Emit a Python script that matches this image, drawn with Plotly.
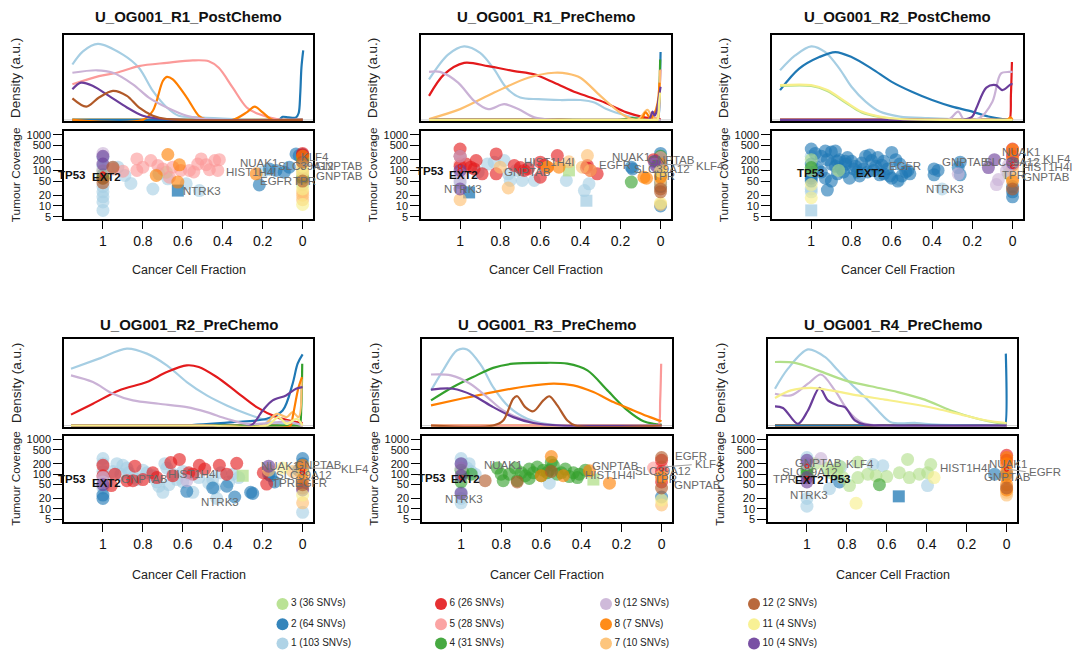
import numpy as np
import plotly.graph_objects as go

W, H = 1072, 659
FONT = "Liberation Sans, Arial, Helvetica, sans-serif"

# ---------------------------------------------------------------- data
SAMPLES = ["U_OG001_R1_PostChemo", "U_OG001_R1_PreChemo", "U_OG001_R2_PostChemo",
           "U_OG001_R2_PreChemo", "U_OG001_R3_PreChemo", "U_OG001_R4_PreChemo"]

CLUSTERS = [1, 2, 3, 4, 5, 6, 7, 8, 9, 10, 11, 12]
CLUSTER_SNVS = [103, 64, 36, 31, 28, 26, 10, 7, 12, 4, 4, 2]
PALETTE = ["#A6CEE3", "#1F78B4", "#B2DF8A", "#33A02C", "#FB9A99", "#E31A1C",
           "#FDBF6F", "#FF7F00", "#CAB2D6", "#6A3D9A", "#F7EF8A", "#B15928"]

CCF_TICKS = [1, 0.8, 0.6, 0.4, 0.2, 0]
CCF_TICK_TEXT = ["1", "0.8", "0.6", "0.4", "0.2", "0"]
COV_TICKS = [5, 10, 20, 50, 100, 200, 500, 1000]

# density curves per cluster: (ccf knots, density a.u.)
R1POST_DENS = {
    3: ([1.153, 0.0], [0, 0]), 4: ([1.153, 0.0], [0, 0]), 6: ([1.153, 0.0], [0, 0]),
    7: ([1.153, 0.0], [0, 0]), 11: ([1.153, 0.0], [0, 0]),
    1: ([1.153, 1.1, 1.025, 0.9, 0.82, 0.75, 0.68, 0.62, 0.52, 0.35, 0.2, 0.0],
        [0.67, 0.83, 0.92, 0.79, 0.63, 0.35, 0.15, 0.05, 0.03, 0.01, 0.0, 0.0]),
    2: ([1.153, 0.5, 0.12, 0.1, 0.07, 0.033, 0.02, 0.012, 0.006, -0.003],
        [0, 0, 0, 0.036, 0.03, 0.03, 0.08, 0.31, 0.63, 0.84]),
    5: ([1.153, 1.02, 0.93, 0.82, 0.68, 0.55, 0.47, 0.42, 0.35, 0.28, 0.22, 0.13, 0.0],
        [0.43, 0.53, 0.57, 0.65, 0.69, 0.72, 0.71, 0.63, 0.39, 0.15, 0.07, 0.01, 0.0]),
    8: ([1.153, 0.8, 0.75, 0.7, 0.68, 0.65, 0.58, 0.52, 0.48, 0.35, 0.28, 0.24, 0.2, 0.15, 0.0],
        [0, 0, 0.11, 0.47, 0.52, 0.49, 0.27, 0.05, 0.0, 0.0, 0.09, 0.16, 0.09, 0.0, 0.0]),
    9: ([1.153, 1.03, 0.95, 0.85, 0.77, 0.68, 0.58, 0.48, 0.0],
        [0.57, 0.6, 0.57, 0.43, 0.27, 0.15, 0.05, 0.01, 0.0]),
    10: ([1.153, 1.11, 1.05, 0.97, 0.88, 0.8, 0.7, 0.0],
         [0.37, 0.45, 0.41, 0.29, 0.15, 0.05, 0.01, 0.0]),
    12: ([1.153, 1.083, 1.02, 0.95, 0.88, 0.82, 0.75, 0.68, 0.0],
         [0.26, 0.16, 0.27, 0.35, 0.29, 0.15, 0.05, 0.01, 0.0]),
}
R1PRE_DENS = {
    3: ([1.155, 0.0], [0, 0]), 12: ([1.155, 0.0], [0, 0]),
    1: ([1.155, 1.06, 0.98, 0.9, 0.83, 0.77, 0.7, 0.61, 0.5, 0.4, 0.33, 0.27, 0.17, 0.08, 0.0],
        [0.49, 0.79, 0.89, 0.81, 0.61, 0.39, 0.27, 0.25, 0.24, 0.24, 0.21, 0.13, 0.05, 0.01, 0.0]),
    6: ([1.155, 1.08, 0.98, 0.86, 0.73, 0.63, 0.53, 0.42, 0.3, 0.17, 0.08, 0.0],
        [0.29, 0.55, 0.69, 0.65, 0.59, 0.55, 0.45, 0.33, 0.23, 0.09, 0.03, 0.01]),
    9: ([1.155, 1.1, 1.01, 0.93, 0.86, 0.78, 0.71, 0.63, 0.53, 0.0],
        [0.58, 0.58, 0.45, 0.23, 0.13, 0.19, 0.13, 0.03, 0.0, 0.0]),
    7: ([1.155, 1.0, 0.83, 0.66, 0.53, 0.465, 0.4, 0.3, 0.18, 0.116, 0.066, 0.04, 0.02, 0.01, 0.004],
        [0.01, 0.13, 0.33, 0.51, 0.57, 0.56, 0.51, 0.29, 0.05, 0.0, 0.12, 0.03, 0.02, 0.1, 0.6]),
    4: ([1.155, 0.5, 0.2, 0.15, 0.1, 0.03, 0.015, 0.008, 0.002],
        [0, 0, 0, 0.02, 0.01, 0.0, 0.0, 0.2, 0.73]),
    2: ([1.155, 0.5, 0.05, 0.02, 0.01, 0.005, 0.0], [0, 0, 0, 0.0, 0.05, 0.3, 0.82]),
    8: ([1.155, 0.5, 0.1, 0.075, 0.05, 0.03, 0.015, 0.005], [0, 0, 0, 0.09, 0.02, 0.08, 0.2, 0.45]),
    10: ([1.155, 0.5, 0.06, 0.04, 0.03, 0.02, 0.01, 0.0], [0, 0, 0, 0.1, 0.05, 0.1, 0.25, 0.4]),
    11: ([1.155, 0.5, 0.03, 0.015, 0.008, 0.002], [0, 0, 0, 0.0, 0.2, 0.33]),
    5: ([1.155, 0.5, 0.03, 0.015, 0.006, 0.0], [0, 0, 0, 0.0, 0.3, 0.61]),
}
R2POST_DENS = {
    4: ([1.155, 0.0], [0, 0]), 5: ([1.155, 0.0], [0, 0]), 7: ([1.155, 0.0], [0, 0]),
    12: ([1.155, 0.0], [0, 0]),
    8: ([1.155, 0.5, 0.03, 0.01, 0.0], [0, 0, 0, 0.03, 0.0]),
    1: ([1.155, 1.08, 1.0, 0.93, 0.86, 0.8, 0.73, 0.66, 0.56, 0.42, 0.3, 0.0],
        [0.6, 0.78, 0.89, 0.82, 0.62, 0.4, 0.22, 0.1, 0.04, 0.02, 0.01, 0.0]),
    2: ([1.155, 1.06, 0.96, 0.88, 0.8, 0.7, 0.6, 0.5, 0.4, 0.3, 0.2, 0.12, 0.05, 0.0],
        [0.36, 0.62, 0.76, 0.82, 0.76, 0.62, 0.46, 0.34, 0.24, 0.16, 0.1, 0.04, 0.01, 0.0]),
    3: ([1.155, 1.0, 0.92, 0.83, 0.75, 0.66, 0.56, 0.0],
        [0.41, 0.41, 0.35, 0.21, 0.09, 0.035, 0.01, 0.0]),
    11: ([1.155, 1.0, 0.92, 0.83, 0.75, 0.66, 0.56, 0.0],
         [0.42, 0.42, 0.36, 0.22, 0.1, 0.04, 0.01, 0.0]),
    10: ([1.155, 0.5, 0.25, 0.2, 0.18, 0.13, 0.083, 0.05, 0.008, 0.0],
         [0, 0, 0, 0.04, 0.14, 0.39, 0.42, 0.36, 0.43, 0.43]),
    9: ([1.155, 0.5, 0.32, 0.27, 0.24, 0.166, 0.1, 0.058, 0.017, 0.0],
        [0, 0, 0, 0.1, 0.0, 0.02, 0.22, 0.56, 0.58, 0.58]),
    6: ([1.155, 0.5, 0.03, 0.015, 0.008, 0.003], [0, 0, 0, 0.0, 0.3, 0.7]),
}
R2PRE_DENS = {
    3: ([1.16, 0.0], [0, 0]), 5: ([1.16, 0.0], [0, 0]), 12: ([1.16, 0.0], [0, 0]),
    1: ([1.16, 1.02, 0.88, 0.78, 0.68, 0.58, 0.48, 0.38, 0.28, 0.18, 0.1, 0.0],
        [0.68, 0.8, 0.92, 0.86, 0.72, 0.52, 0.36, 0.24, 0.14, 0.06, 0.02, 0.0]),
    6: ([1.16, 1.05, 0.92, 0.78, 0.68, 0.58, 0.52, 0.43, 0.33, 0.23, 0.13, 0.05, 0.0],
        [0.13, 0.26, 0.42, 0.52, 0.64, 0.72, 0.7, 0.58, 0.4, 0.22, 0.1, 0.05, 0.03]),
    9: ([1.16, 1.05, 0.95, 0.85, 0.72, 0.58, 0.48, 0.38, 0.28, 0.15, 0.08, 0.0],
        [0.6, 0.52, 0.38, 0.3, 0.26, 0.22, 0.16, 0.08, 0.02, 0.03, 0.05, 0.0]),
    2: ([1.16, 0.8, 0.6, 0.35, 0.18, 0.1, 0.05, 0.025, 0.0],
        [0, 0, 0, 0.04, 0.08, 0.18, 0.5, 0.74, 0.85]),
    10: ([1.16, 0.5, 0.26, 0.2, 0.15, 0.083, 0.033, 0.0], [0, 0, 0, 0.18, 0.3, 0.36, 0.44, 0.46]),
    4: ([1.16, 0.5, 0.03, 0.015, 0.007, 0.002], [0, 0, 0, 0.0, 0.2, 0.74]),
    8: ([1.16, 0.5, 0.06, 0.05, 0.02, 0.003], [0, 0, 0, 0.1, 0.46, 0.58]),
    7: ([1.16, 0.5, 0.2, 0.13, 0.08, 0.05, 0.02, 0.005], [0, 0, 0, 0.14, 0.1, 0.16, 0.1, 0.56]),
    11: ([1.16, 0.5, 0.18, 0.12, 0.08, 0.03, 0.0], [0, 0, 0, 0.1, 0.02, 0.08, 0.0]),
}
R3PRE_DENS = {
    2: ([1.15, 0.0], [0, 0]), 3: ([1.15, 0.0], [0, 0]), 6: ([1.15, 0.0], [0, 0]),
    7: ([1.15, 0.0], [0, 0]), 11: ([1.15, 0.0], [0, 0]),
    1: ([1.15, 1.09, 1.02, 0.97, 0.9, 0.84, 0.76, 0.67, 0.6, 0.5, 0.0],
        [0.42, 0.66, 0.9, 0.91, 0.72, 0.46, 0.22, 0.08, 0.03, 0.0, 0.0]),
    4: ([1.15, 1.04, 0.94, 0.84, 0.74, 0.6, 0.47, 0.37, 0.27, 0.17, 0.09, 0.04, 0.0],
        [0.3, 0.46, 0.58, 0.69, 0.74, 0.75, 0.74, 0.66, 0.42, 0.18, 0.05, 0.02, 0.01]),
    8: ([1.15, 1.0, 0.84, 0.67, 0.54, 0.44, 0.34, 0.24, 0.14, 0.058, 0.0],
        [0.24, 0.32, 0.4, 0.47, 0.5, 0.48, 0.4, 0.28, 0.18, 0.1, 0.05]),
    9: ([1.15, 1.05, 0.955, 0.87, 0.79, 0.7, 0.6, 0.5, 0.0],
        [0.61, 0.6, 0.5, 0.34, 0.18, 0.08, 0.02, 0.0, 0.0]),
    10: ([1.15, 1.04, 0.94, 0.84, 0.74, 0.64, 0.5, 0.0],
         [0.43, 0.44, 0.36, 0.22, 0.1, 0.03, 0.0, 0.0]),
    12: ([1.15, 0.84, 0.79, 0.74, 0.72, 0.68, 0.64, 0.59, 0.56, 0.52, 0.47, 0.43, 0.0],
         [0, 0, 0.06, 0.32, 0.35, 0.22, 0.17, 0.3, 0.35, 0.24, 0.06, 0.0, 0.0]),
    5: ([1.15, 0.5, 0.03, 0.015, 0.007, 0.002], [0, 0, 0, 0.0, 0.3, 0.74]),
}
R4PRE_DENS = {
    4: ([1.16, 0.0], [0, 0]), 5: ([1.16, 0.0], [0, 0]), 6: ([1.16, 0.0], [0, 0]),
    7: ([1.16, 0.0], [0, 0]), 8: ([1.16, 0.0], [0, 0]), 12: ([1.16, 0.0], [0, 0]),
    1: ([1.16, 1.095, 0.995, 0.91, 0.845, 0.78, 0.71, 0.645, 0.58, 0.45, 0.35, 0.0],
        [0.44, 0.68, 0.91, 0.82, 0.66, 0.5, 0.34, 0.18, 0.04, 0.03, 0.01, 0.0]),
    3: ([1.16, 1.06, 0.945, 0.81, 0.68, 0.545, 0.41, 0.28, 0.146, 0.047, 0.0],
        [0.76, 0.75, 0.66, 0.54, 0.47, 0.4, 0.31, 0.18, 0.08, 0.03, 0.02]),
    11: ([1.16, 1.08, 0.98, 0.88, 0.745, 0.61, 0.48, 0.35, 0.21, 0.1, 0.0],
         [0.33, 0.42, 0.45, 0.42, 0.36, 0.31, 0.26, 0.2, 0.12, 0.06, 0.03]),
    9: ([1.16, 1.08, 0.995, 0.93, 0.86, 0.795, 0.73, 0.65, 0.0],
        [0.38, 0.36, 0.5, 0.61, 0.42, 0.18, 0.04, 0.0, 0.0]),
    10: ([1.16, 1.12, 1.045, 0.995, 0.937, 0.895, 0.845, 0.81, 0.76, 0.71, 0.6, 0.0],
         [0.23, 0.21, 0.02, 0.18, 0.45, 0.3, 0.24, 0.22, 0.06, 0.01, 0.0, 0.0]),
    2: ([1.16, 0.5, 0.03, 0.015, 0.008, 0.004], [0, 0, 0, 0.0, 0.0, 0.86]),
}

# SNVs per cluster: (cancer cell fraction, tumour coverage)
R1POST_SNV = {
    1: ([1, 1, 1, 1, 1, 1, 1, 0.95, 0.925, 0.89, 0.86, 0.75, 0.72, 0.675, 0.583, 0.517, 0.2],
        [230, 130, 35, 25, 18, 13, 7.5, 120, 123, 72, 43, 30, 80, 58, 42, 27, 90]),
    2: ([0.217, 0.167, 0.133, 0.092, 0.067, 0.033, 0.017, 0, 0],
        [39, 110, 100, 89, 123, 290, 260, 280, 180]),
    3: ([1, 0.683, 0, 0, 0, 0], [95, 89, 200, 100, 70, 40]),
    4: ([1, 1, 0, 0], [75, 60, 220, 60]),
    5: ([0.95, 0.9, 0.83, 0.83, 0.8, 0.76, 0.725, 0.7, 0.667, 0.65, 0.61, 0.567, 0.545, 0.525,
         0.508, 0.483, 0.467, 0.44, 0.425, 0.417, 0],
        [110, 95, 210, 100, 123, 190, 137, 110, 64, 123, 100, 100, 90, 150, 210, 145, 104,
         190, 100, 200, 110]),
    6: ([0, 0], [300, 270]),
    7: ([0, 0, 0, 0, 0], [150, 80, 25, 20, 15]),
    8: ([0.675, 0.617, 0.733, 0.625, 0.233, 0], [280, 143, 72, 47, 80, 250]),
    9: ([1, 1], [300, 100]),
    10: ([1, 1], [250, 150]),
    11: ([0, 0, 0, 0], [130, 90, 30, 11]),
    12: ([0.95, 1, 1, 0, 0], [123, 60, 45, 170, 50]),
}
R1POST_SQ = {2: ([0.625], [27])}

R1PRE_SNV = {
    1: ([1, 1, 0.91, 0.864, 0.83, 0.78, 0.76, 0.75, 0.72, 0.69, 0.656, 0.63, 0.47, 0.357, 0.38],
        [250, 45, 89, 150, 170, 190, 80, 52, 100, 52, 120, 52, 52, 42, 27]),
    2: ([0.146, 0.14, 0.02, 0, 0, 0, 0, 0, 0], [123, 110, 180, 300, 200, 150, 45, 35, 10]),
    4: ([0.146, 0, 0], [47, 250, 70]),
    5: ([1, 0], [150, 230]),
    6: ([1, 1, 1, 0.97, 0.947, 0.93, 0.92, 0.89, 0.82, 0.82, 0.73, 0.7, 0.68, 0.66, 0.6, 0.6,
         0.58, 0.565, 0.515, 0.37, 0.365, 0.35, 0.316, 0.035],
        [400, 250, 130, 150, 123, 110, 190, 80, 290, 80, 137, 120, 100, 110, 170, 64,
         140, 123, 260, 120, 137, 100, 80, 200]),
    7: ([1, 0.8, 0.76, 0.565, 0.457, 0.39, 0.365, 0.35, 0, 0, 0, 0, 0],
        [15, 123, 32, 123, 175, 123, 260, 100, 120, 80, 55, 40, 11]),
    8: ([0.565, 0.507, 0.083, 0.07, 0, 0, 0], [123, 123, 64, 60, 150, 100, 65]),
    9: ([1, 1, 1, 0.03], [250, 80, 50, 150]),
    10: ([1, 1, 0.03, 0.02], [100, 30, 180, 130]),
    11: ([0, 0], [12, 95]),
    12: ([0, 0], [30, 25]),
}
R1PRE_SQ = {1: ([0.37], [14]), 2: ([0.955], [24]), 3: ([0.457], [100])}

R2POST_SNV = {
    1: ([1, 1, 1, 0.98, 0.56, 0.35], [250, 30, 25, 110, 55, 30]),
    2: ([1, 1, 1, 1, 1, 0.98, 0.95, 0.93, 0.9, 0.88, 0.92, 0.9, 0.87, 0.85, 0.83, 0.82, 0.8,
         0.78, 0.77, 0.75, 0.73, 0.71, 0.7, 0.68, 0.67, 0.64, 0.62, 0.6, 0.58, 0.56, 0.55,
         0.53, 0.51, 0.6, 0.57, 0.64, 0.66, 0.69, 0.72, 0.76, 0.79, 0.81, 0.84, 0.87, 0.9,
         0.93, 0.95, 0.97, 0.92, 0.88, 0.86, 0.83, 0.74, 0.65, 0.61, 0.52, 0.39, 0.39, 0.37,
         0.27, 0.26, 0.26, 0, 0, 0],
        [400, 150, 70, 60, 50, 300, 250, 350, 330, 350, 200, 150, 180, 110, 150, 230, 180,
         130, 90, 160, 250, 270, 190, 130, 230, 180, 110, 320, 200, 150, 70, 90, 80, 60, 50,
         80, 75, 100, 90, 70, 110, 60, 90, 80, 50, 60, 90, 120, 28, 130, 200, 180, 110, 140,
         70, 100, 110, 75, 100, 120, 75, 170, 35, 25, 18]),
    3: ([1, 1, 0.864, 0.02], [200, 100, 100, 80]),
    4: ([1], [120]),
    5: ([0], [300]),
    6: ([0, 0, 0], [400, 250, 140]),
    7: ([0, 0], [100, 60]),
    8: ([0, 0, 0], [380, 200, 50]),
    9: ([0.27, 0.08, 0.07, 0.03, 0.02], [80, 40, 55, 100, 140]),
    10: ([0.12, 0.09, 0], [120, 200, 160]),
    11: ([1, 1], [17, 40]),
    12: ([0], [30]),
}
R2POST_SQ = {1: ([1], [7.5])}

R2PRE_SNV = {
    1: ([1, 1, 1, 1, 0.98, 0.95, 0.93, 0.91, 0.9, 0.88, 0.87, 0.85, 0.83, 0.8, 0.78, 0.75,
         0.73, 0.72, 0.7, 0.69, 0.68, 0.67, 0.65, 0.63, 0.6, 0.6, 0.57, 0.55, 0.52, 0.47, 0.45,
         0.44, 0.43, 0.41, 0.37, 0.35, 0.32, 0],
        [280, 200, 120, 40, 60, 120, 200, 100, 180, 150, 110, 80, 70, 130, 110, 90, 60, 45,
         30, 200, 150, 50, 100, 70, 60, 120, 100, 30, 80, 55, 70, 40, 20, 110, 60, 100, 80, 8]),
    2: ([1, 1, 0.58, 0.45, 0.38, 0.34, 0.26, 0.25, 0.14, 0.16, 0.17, 0.02, 0, 0],
        [25, 20, 32, 40, 45, 22, 30, 28, 60, 90, 100, 130, 280, 200]),
    4: ([0], [130]),
    5: ([0], [160]),
    6: ([1, 1, 0.958, 0.94, 0.88, 0.85, 0.84, 0.8, 0.75, 0.73, 0.66, 0.65, 0.617, 0.57, 0.55,
         0.517, 0.49, 0.417, 0.38, 0.33, 0.197, 0.18],
        [180, 90, 47, 100, 65, 65, 170, 70, 110, 80, 215, 90, 265, 110, 100, 180, 140, 180,
         100, 205, 110, 52]),
    7: ([0.17, 0.05, 0, 0], [130, 120, 100, 15]),
    8: ([0, 0, 0], [180, 70, 40]),
    9: ([1, 1, 0.58], [80, 60, 65]),
    10: ([1, 0.17, 0], [50, 170, 35]),
    11: ([0.1, 0], [150, 25]),
    12: ([0], [50]),
}
R2PRE_SQ = {3: ([0.3], [90])}

R3PRE_SNV = {
    1: ([1, 1, 1, 1, 1, 0.97, 0.96, 0.95, 0.93, 0.56], [280, 200, 30, 20, 15, 150, 200, 120, 100, 55]),
    2: ([0], [22]),
    4: ([1, 1, 0.99, 0.95, 0.82, 0.8, 0.79, 0.76, 0.73, 0.72, 0.7, 0.68, 0.66, 0.66, 0.64,
         0.62, 0.6, 0.59, 0.57, 0.56, 0.55, 0.54, 0.52, 0.5, 0.48, 0.46, 0.44, 0.42, 0.41, 0.38],
        [60, 130, 110, 100, 150, 100, 65, 100, 150, 65, 110, 90, 75, 140, 110, 160, 90, 130,
         110, 130, 220, 180, 100, 110, 140, 85, 110, 80, 100, 130]),
    5: ([0.04, 0], [150, 160]),
    6: ([0, 0, 0], [250, 120, 60]),
    7: ([0, 0], [90, 13]),
    8: ([0.55, 0.6, 0.49, 0.36, 0.26, 0], [320, 90, 90, 125, 55, 80]),
    9: ([1], [150]),
    10: ([1, 1, 1], [200, 90, 28]),
    11: ([0], [18]),
    12: ([0.88, 0.72, 0.55, 0, 0], [65, 60, 120, 300, 40]),
}
R3PRE_SQ = {3: ([0.34], [70])}

R4PRE_SNV = {
    1: ([1, 1, 1, 1, 0.887, 0.83, 0.67, 0.62, 0.396], [300, 180, 20, 12, 38, 160, 190, 175, 47]),
    2: ([0.837, 0.06, 0], [60, 100, 100]),
    3: ([1, 0.96, 0.9, 0.88, 0.85, 0.837, 0.82, 0.787, 0.745, 0.745, 0.695, 0.654, 0.6,
         0.537, 0.496, 0.487, 0.437, 0.396, 0.38],
        [150, 200, 150, 110, 130, 170, 80, 47, 80, 220, 100, 90, 85, 110, 265, 80, 100, 110, 190]),
    4: ([1, 1, 0.637], [100, 130, 50]),
    5: ([0], [180]),
    6: ([0, 0], [350, 250]),
    7: ([0, 0], [25, 30]),
    8: ([0, 0, 0, 0, 0, 0], [300, 200, 120, 80, 50, 35]),
    9: ([0.93, 1], [280, 200]),
    10: ([1, 1, 1], [250, 60, 80]),
    11: ([0.754, 0.363], [14.5, 80]),
    12: ([0], [40]),
}
R4PRE_SQ = {2: ([0.54], [23])}

# gene labels: (gene, ccf, coverage, anchor, bold)
R1POST_GENES = [("TP53", 1.075, 72, "right", True), ("EXT2", 1.067, 64, "left", True),
                ("NTRK3", 0.608, 27, "left", False), ("HIST1H4I", 0.392, 93, "left", False),
                ("NUAK1", 0.325, 159, "left", False), ("SLC39A12", 0.133, 130, "left", False),
                ("KLF4", 0.017, 235, "left", False), ("GNPTAB", -0.058, 130, "left", False),
                ("EGFR", 0.225, 51, "left", False), ("TPR", 0.058, 51, "left", False),
                ("GNPTAB", -0.058, 69, "left", False)]
R1PRE_GENES = [("TP53", 1.071, 95, "right", True), ("EXT2", 1.063, 76, "left", True),
               ("NTRK3", 1.088, 30, "left", False), ("GNPTAB", 0.789, 89, "left", False),
               ("HIST1H4I", 0.689, 170, "left", False), ("EGFR", 0.319, 146, "left", False),
               ("NUAK1", 0.252, 245, "left", False), ("GNPTAB", 0.075, 198, "left", False),
               ("SLC39A12", 0.141, 110, "left", False), ("TPR", 0.053, 71, "left", False),
               ("KLF4", -0.166, 137, "left", False)]
R2POST_GENES = [("TP53", 1.0, 85, "center", True), ("EXT2", 0.789, 85, "left", True),
                ("EGFR", 0.623, 131, "left", False), ("NTRK3", 0.44, 30, "left", False),
                ("GNPTAB", 0.36, 170, "left", False), ("SLC39A12", 0.15, 170, "left", False),
                ("NUAK1", 0.061, 325, "left", False), ("KLF4", -0.141, 211, "left", False),
                ("HIST1H4I", -0.035, 123, "left", False), ("TPR", 0.063, 76, "left", False),
                ("GNPTAB", -0.042, 67, "left", False)]
R2PRE_GENES = [("TP53", 1.075, 73, "right", True), ("EXT2", 1.067, 56, "left", True),
               ("GNPTAB", 0.92, 73, "left", False), ("HIST1H4I", 0.683, 101, "left", False),
               ("NTRK3", 0.517, 16, "left", False), ("NUAK1", 0.22, 172, "left", False),
               ("GNPTAB", 0.05, 180, "left", False), ("KLF4", -0.183, 145, "left", False),
               ("SLC39A12", 0.142, 96, "left", False), ("TPR", 0.163, 55, "left", False),
               ("EGFR", 0.05, 55, "left", False)]
R3PRE_GENES = [("TP53", 1.063, 78, "right", True), ("EXT2", 1.058, 73, "left", True),
               ("NTRK3", 1.088, 19, "left", False), ("NUAK1", 0.897, 180, "left", False),
               ("GNPTAB", 0.357, 172, "left", False), ("HIST1H4I", 0.39, 96, "left", False),
               ("SLC39A12", 0.141, 125, "left", False), ("TPR", 0.05, 73, "left", False),
               ("EGFR", -0.058, 327, "left", False), ("KLF4", -0.158, 191, "left", False),
               ("GNPTAB", -0.05, 48, "left", False)]
R4PRE_GENES = [("GNPTAB", 1.07, 213, "left", False), ("SLC39A12", 1.136, 119, "left", False),
               ("TPR", 1.178, 73, "left", False), ("EXT2", 1.07, 70, "left", True),
               ("TP53", 0.928, 73, "left", True), ("NTRK3", 1.095, 26, "left", False),
               ("KLF4", 0.812, 191, "left", False), ("HIST1H4I", 0.346, 155, "left", False),
               ("NUAK1", 0.097, 191, "left", False), ("GNPTAB", 0.121, 81, "left", False),
               ("EGFR", -0.103, 117, "left", False)]

# leader segments: (point ccf, point coverage, label ccf, label coverage)
R1POST_LEADS = [(0.0, 150, -0.06, 135)]
R1PRE_LEADS = [(0.0, 150, -0.166, 137)]
R2POST_LEADS = [(0.0, 150, -0.141, 205), (0.0, 130, -0.035, 123)]
R2PRE_LEADS = [(0.0, 150, -0.183, 145)]
R3PRE_LEADS = [(0.0, 160, -0.158, 188)]
R4PRE_LEADS = [(0.0, 140, -0.103, 117)]

# driver SNVs marked in red: (ccf, coverage)
R1POST_DRIVERS = ([1, 1], [75, 80])
R1PRE_DRIVERS = ([1, 1], [100, 130])
R2POST_DRIVERS = ([0, 0], [150, 130])
R2PRE_DRIVERS = ([0, 0], [130, 110])
R3PRE_DRIVERS = ([1, 0], [80, 140])
R4PRE_DRIVERS = ([1, 1, 1, 0], [170, 75, 80, 140])

PANELS = [
    (SAMPLES[0], R1POST_DENS, R1POST_SNV, R1POST_SQ, R1POST_GENES, R1POST_LEADS, R1POST_DRIVERS),
    (SAMPLES[1], R1PRE_DENS, R1PRE_SNV, R1PRE_SQ, R1PRE_GENES, R1PRE_LEADS, R1PRE_DRIVERS),
    (SAMPLES[2], R2POST_DENS, R2POST_SNV, R2POST_SQ, R2POST_GENES, R2POST_LEADS, R2POST_DRIVERS),
    (SAMPLES[3], R2PRE_DENS, R2PRE_SNV, R2PRE_SQ, R2PRE_GENES, R2PRE_LEADS, R2PRE_DRIVERS),
    (SAMPLES[4], R3PRE_DENS, R3PRE_SNV, R3PRE_SQ, R3PRE_GENES, R3PRE_LEADS, R3PRE_DRIVERS),
    (SAMPLES[5], R4PRE_DENS, R4PRE_SNV, R4PRE_SQ, R4PRE_GENES, R4PRE_LEADS, R4PRE_DRIVERS),
]

# ---------------------------------------------------------------- layout geometry (pixels)
# left, right, density top, density bottom, scatter top, scatter bottom
BOXES = [
    (64, 313, 33, 120, 130, 219),
    (421, 671, 33, 120, 130, 219),
    (772, 1023, 33, 120, 130, 219),
    (64, 313, 340, 428, 437, 524),
    (422, 672, 340, 428, 437, 524),
    (768, 1017, 340, 428, 437, 524),
]
TITLE_Y = [15, 15, 15, 325, 325, 325]
XTITLE_Y = [270, 270, 270, 577, 577, 577]
LEGEND_COLS = [(282.5, [3, 2, 1]), (441, [6, 5, 4]), (606, [9, 8, 7]), (754, [12, 11, 10])]
LEGEND_ROWS = [606.5, 627, 646.5]

X_RANGE = [1.195, -0.052]
D_RANGE = [-0.015, 1.03]
Y_RANGE = [np.log10(4.2), np.log10(1280)]


def col(c):
    return PALETTE[c - 1]


def px_x(p):
    return p / W


def px_y(p):
    return 1 - p / H


def ax_id(n):
    """Layout/trace suffix for the n-th axis pair ('' for the first one)."""
    return "" if n == 1 else str(n)


def scatter_pixel(i, ccf, cov):
    """Pixel position of (ccf, coverage) inside the i-th coverage panel; labels may spill
    outside the axis range so they are placed on the paper instead of the data axes."""
    left, right, _, _, stop, sbot = BOXES[i]
    fx = (X_RANGE[0] - ccf) / (X_RANGE[0] - X_RANGE[1])
    fy = (np.log10(cov) - Y_RANGE[0]) / (Y_RANGE[1] - Y_RANGE[0])
    return left + fx * (right - left), sbot - fy * (sbot - stop)


fig = go.Figure()
layout = dict(
    width=W, height=H, margin=dict(l=0, r=0, t=0, b=0),
    paper_bgcolor="white", plot_bgcolor="white", showlegend=False,
    font=dict(family=FONT, color="#111"),
)
annotations = []
shapes = []

frame = dict(showline=True, mirror=True, linecolor="black", linewidth=1.5,
             showgrid=False, zeroline=False)

for i, (title, dens, snv, sq, genes, leads, drivers) in enumerate(PANELS):
    left, right, dtop, dbot, stop, sbot = BOXES[i]
    nd, ns = ax_id(2 * i + 1), ax_id(2 * i + 2)
    xd, yd = "x" + nd, "y" + nd
    xs, ys = "x" + ns, "y" + ns

    layout["xaxis" + nd] = dict(domain=[px_x(left), px_x(right)], range=X_RANGE,
                                showticklabels=False, ticks="", anchor=yd, **frame)
    layout["yaxis" + nd] = dict(domain=[px_y(dbot), px_y(dtop)], range=D_RANGE,
                                showticklabels=False, ticks="", anchor=xd, **frame)
    layout["xaxis" + ns] = dict(domain=[px_x(left), px_x(right)], range=X_RANGE,
                                tickvals=CCF_TICKS, ticktext=CCF_TICK_TEXT, ticks="outside",
                                ticklen=8, tickwidth=1.3, tickcolor="black",
                                tickfont=dict(size=14, color="#111"), anchor=ys, **frame)
    layout["yaxis" + ns] = dict(domain=[px_y(sbot), px_y(stop)], type="log", range=Y_RANGE,
                                tickvals=COV_TICKS, ticktext=[str(v) for v in COV_TICKS],
                                ticks="outside", ticklen=9, tickwidth=1.3, tickcolor="black",
                                tickfont=dict(size=11, color="#111"), anchor=xs, **frame)

    # light baseline under the density curves
    shapes.append(dict(type="line", xref=xd + " domain", x0=0, x1=1, yref=yd, y0=0, y1=0,
                       line=dict(color="#d0d0d0", width=1), layer="below"))

    # density curves: flat (absent) clusters first, then the rest in cluster order
    order = sorted(dens.keys(), key=lambda c: (max(dens[c][1]) > 0, c))
    for c in order:
        dx, dy = dens[c]
        fig.add_trace(go.Scatter(x=dx, y=dy, mode="lines", xaxis=xd, yaxis=yd,
                                 line=dict(color=col(c), width=2.2, shape="spline", smoothing=0.9),
                                 hoverinfo="skip"))

    # SNV points
    for c in CLUSTERS:
        if c in snv:
            fig.add_trace(go.Scatter(x=snv[c][0], y=snv[c][1], mode="markers", xaxis=xs, yaxis=ys,
                                     marker=dict(size=13, color=col(c), opacity=0.62,
                                                 line=dict(width=0)),
                                     cliponaxis=False, hoverinfo="skip"))
        if c in sq:
            fig.add_trace(go.Scatter(x=sq[c][0], y=sq[c][1], mode="markers", xaxis=xs, yaxis=ys,
                                     marker=dict(size=12, symbol="square", color=col(c),
                                                 opacity=0.75, line=dict(width=0)),
                                     cliponaxis=False, hoverinfo="skip"))

    # driver marks
    fig.add_trace(go.Scatter(x=drivers[0], y=drivers[1], mode="markers", xaxis=xs, yaxis=ys,
                             marker=dict(size=4, symbol="circle-open", color="#e0201c",
                                         line=dict(width=1.2, color="#e0201c")),
                             cliponaxis=False, hoverinfo="skip"))

    # leader lines from the SNV to its label
    for (px0, pc0, px1, pc1) in leads:
        hx, hy = scatter_pixel(i, px0, pc0)
        tx, ty = scatter_pixel(i, px1, pc1)
        annotations.append(dict(x=px_x(hx), y=px_y(hy), xref="paper", yref="paper", text="",
                                showarrow=True, arrowhead=0, arrowwidth=1, arrowcolor="#a0a0a0",
                                ax=tx - hx, ay=ty - hy))

    # gene labels
    for (g, gx, gc, anc, bold) in genes:
        lx_, ly_ = scatter_pixel(i, gx, gc)
        annotations.append(dict(x=px_x(lx_), y=px_y(ly_), xref="paper", yref="paper",
                                text=f"<b>{g}</b>" if bold else g, showarrow=False,
                                xanchor=anc, yanchor="middle",
                                font=dict(size=11.5, color="#111" if bold else "#6a6a6a",
                                          family=FONT)))

    cx = px_x((left + right) / 2)
    annotations.append(dict(x=cx, y=px_y(TITLE_Y[i]), xref="paper", yref="paper",
                            text=f"<b>{title}</b>", showarrow=False, xanchor="center",
                            yanchor="middle", font=dict(size=15, color="#111")))
    annotations.append(dict(x=cx, y=px_y(XTITLE_Y[i]), xref="paper", yref="paper",
                            text="Cancer Cell Fraction", showarrow=False, xanchor="center",
                            yanchor="middle", font=dict(size=12.5, color="#222")))
    annotations.append(dict(x=px_x(left - 48), y=px_y((dtop + dbot) / 2), xref="paper",
                            yref="paper", text="Density (a.u.)", textangle=-90, showarrow=False,
                            xanchor="center", yanchor="middle", font=dict(size=13.5, color="#222")))
    annotations.append(dict(x=px_x(left - 48), y=px_y((stop + sbot) / 2), xref="paper",
                            yref="paper", text="Tumour Coverage", textangle=-90, showarrow=False,
                            xanchor="center", yanchor="middle", font=dict(size=11.8, color="#222")))

# legend drawn on its own pixel-scaled axis
lx, ly, lc, lt = [], [], [], []
for cx_px, clist in LEGEND_COLS:
    for r, c in enumerate(clist):
        lx.append(cx_px)
        ly.append(LEGEND_ROWS[r])
        lc.append(col(c))
        lt.append(f"{c} ({CLUSTER_SNVS[c - 1]} SNVs)")
fig.add_trace(go.Scatter(x=lx, y=ly, mode="markers+text", xaxis="x13", yaxis="y13",
                         marker=dict(size=12, color=lc, opacity=0.9, line=dict(width=0)),
                         text=lt, textposition="middle right",
                         textfont=dict(size=10, color="#222", family=FONT),
                         cliponaxis=False, hoverinfo="skip"))
layout["xaxis13"] = dict(domain=[0, 1], range=[0, W], visible=False, anchor="y13")
layout["yaxis13"] = dict(domain=[0, 69 / H], range=[H, 590], visible=False, anchor="x13")

layout["annotations"] = annotations
layout["shapes"] = shapes
fig.update_layout(**layout)
fig.write_html("out.html")
